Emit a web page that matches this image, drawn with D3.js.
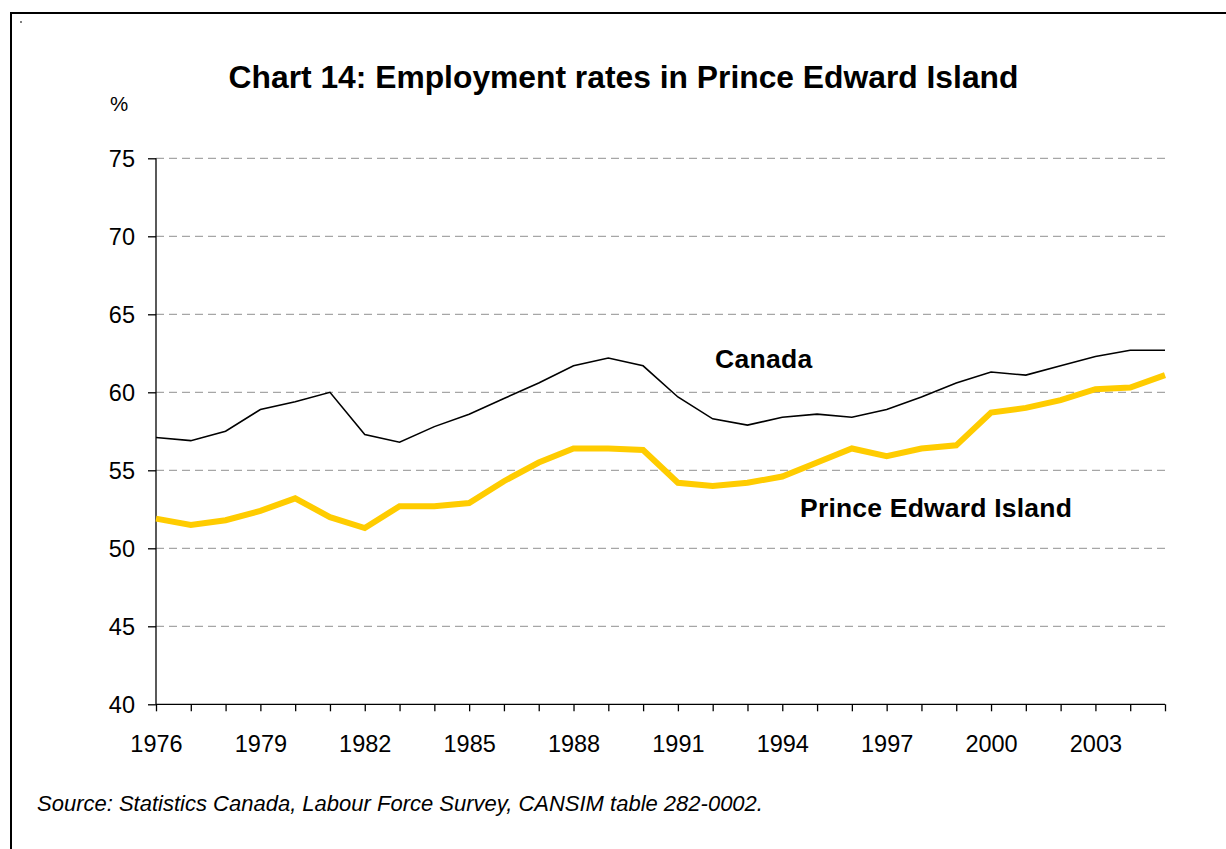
<!DOCTYPE html>
<html>
<head>
<meta charset="utf-8">
<script src="https://cdn.jsdelivr.net/npm/d3@7"></script>
<style>
  html, body { margin: 0; padding: 0; background: #fff; }
  svg { display: block; }
  text { font-family: "Liberation Sans", Arial, Helvetica, sans-serif; fill: #000; }
</style>
</head>
<body>
<svg id="chart" width="1226" height="849"></svg>
<script>
// Employment rates (%), annual averages
const years = d3.range(1976, 2006);
const canada = [57.1, 56.9, 57.5, 58.9, 59.4, 60.0, 57.3, 56.8, 57.8, 58.6,
                59.6, 60.6, 61.7, 62.2, 61.7, 59.7, 58.3, 57.9, 58.4, 58.6,
                58.4, 58.9, 59.7, 60.6, 61.3, 61.1, 61.7, 62.3, 62.7, 62.7];
const pei    = [51.9, 51.5, 51.8, 52.4, 53.2, 52.0, 51.3, 52.7, 52.7, 52.9,
                54.3, 55.5, 56.4, 56.4, 56.3, 54.2, 54.0, 54.2, 54.6, 55.5,
                56.4, 55.9, 56.4, 56.6, 58.7, 59.0, 59.5, 60.2, 60.3, 61.1];
const yTicks = [40, 45, 50, 55, 60, 65, 70, 75];
const xLabelYears = d3.range(1976, 2006, 3);

const svg = d3.select("#chart");

// outer frame (left and top edges)
svg.append("path")
  .attr("d", "M11,849 V13 H1226")
  .attr("fill", "none").attr("stroke", "#000").attr("stroke-width", 2);
svg.append("rect").attr("x", 20).attr("y", 21.5).attr("width", 2).attr("height", 1).attr("fill", "#000");

const plotLeft = 156, plotRight = 1165, plotTop = 158.3, plotBottom = 704.3;
const x = d3.scaleLinear().domain([1976, 2005]).range([plotLeft, plotRight]);
const y = d3.scaleLinear().domain([40, 75]).range([plotBottom, plotTop]);

// horizontal gridlines
svg.append("g").selectAll("line")
  .data(yTicks.filter(v => v > 40))
  .join("line")
  .attr("x1", plotLeft).attr("x2", plotRight)
  .attr("y1", d => y(d)).attr("y2", d => y(d))
  .attr("stroke", "#a6a6a6").attr("stroke-width", 1.2)
  .attr("stroke-dasharray", "8,5");

// y axis
const yAxis = svg.append("g")
  .attr("transform", `translate(${plotLeft},0)`)
  .call(d3.axisLeft(y).tickValues(yTicks).tickSize(8).tickPadding(13).tickFormat(d3.format("d")));
yAxis.selectAll("text").style("font-size", "23.5px").attr("dy", "0.36em");

// x axis
const xAxis = svg.append("g")
  .attr("transform", `translate(0,${plotBottom})`)
  .call(d3.axisBottom(x).tickValues(years).tickSize(7).tickPadding(0)
        .tickFormat(d => xLabelYears.includes(d) ? d : ""));
xAxis.selectAll("text").style("font-size", "23.5px").attr("y", 47.5).attr("dy", 0);

[yAxis, xAxis].forEach(g => {
  g.select(".domain").attr("stroke", "#000").attr("stroke-width", 1.3);
  g.selectAll(".tick line").attr("stroke", "#000").attr("stroke-width", 1.3);
});
yAxis.select(".domain").attr("d", `M0,${plotTop}V${plotBottom}`);
xAxis.select(".domain").attr("d", `M${plotLeft},0H${plotRight}`);

// series lines
const line = d3.line().x((d, i) => x(years[i])).y(d => y(d));
svg.append("path").datum(pei)
  .attr("d", line).attr("fill", "none")
  .attr("stroke", "#ffcc00").attr("stroke-width", 6).attr("stroke-linejoin", "miter");
svg.append("path").datum(canada)
  .attr("d", line).attr("fill", "none")
  .attr("stroke", "#000").attr("stroke-width", 1.6).attr("stroke-linejoin", "miter");

// series labels
svg.append("text").attr("x", 715).attr("y", 368)
  .style("font-size", "26.5px").style("font-weight", "bold").style("letter-spacing", "0.3px").text("Canada");
svg.append("text").attr("x", 800).attr("y", 516.5)
  .style("font-size", "26.5px").style("font-weight", "bold").style("letter-spacing", "0.2px").text("Prince Edward Island");

// title, unit, source
svg.append("text").attr("x", 623.5).attr("y", 87.5).attr("text-anchor", "middle")
  .style("font-size", "31.8px").style("font-weight", "bold")
  .text("Chart 14: Employment rates in Prince Edward Island");
svg.append("text").attr("x", 110).attr("y", 111)
  .style("font-size", "20.5px").text("%");
svg.append("text").attr("x", 37).attr("y", 811)
  .style("font-size", "22px").style("font-style", "italic")
  .text("Source: Statistics Canada, Labour Force Survey, CANSIM table 282-0002.");
</script>
</body>
</html>
